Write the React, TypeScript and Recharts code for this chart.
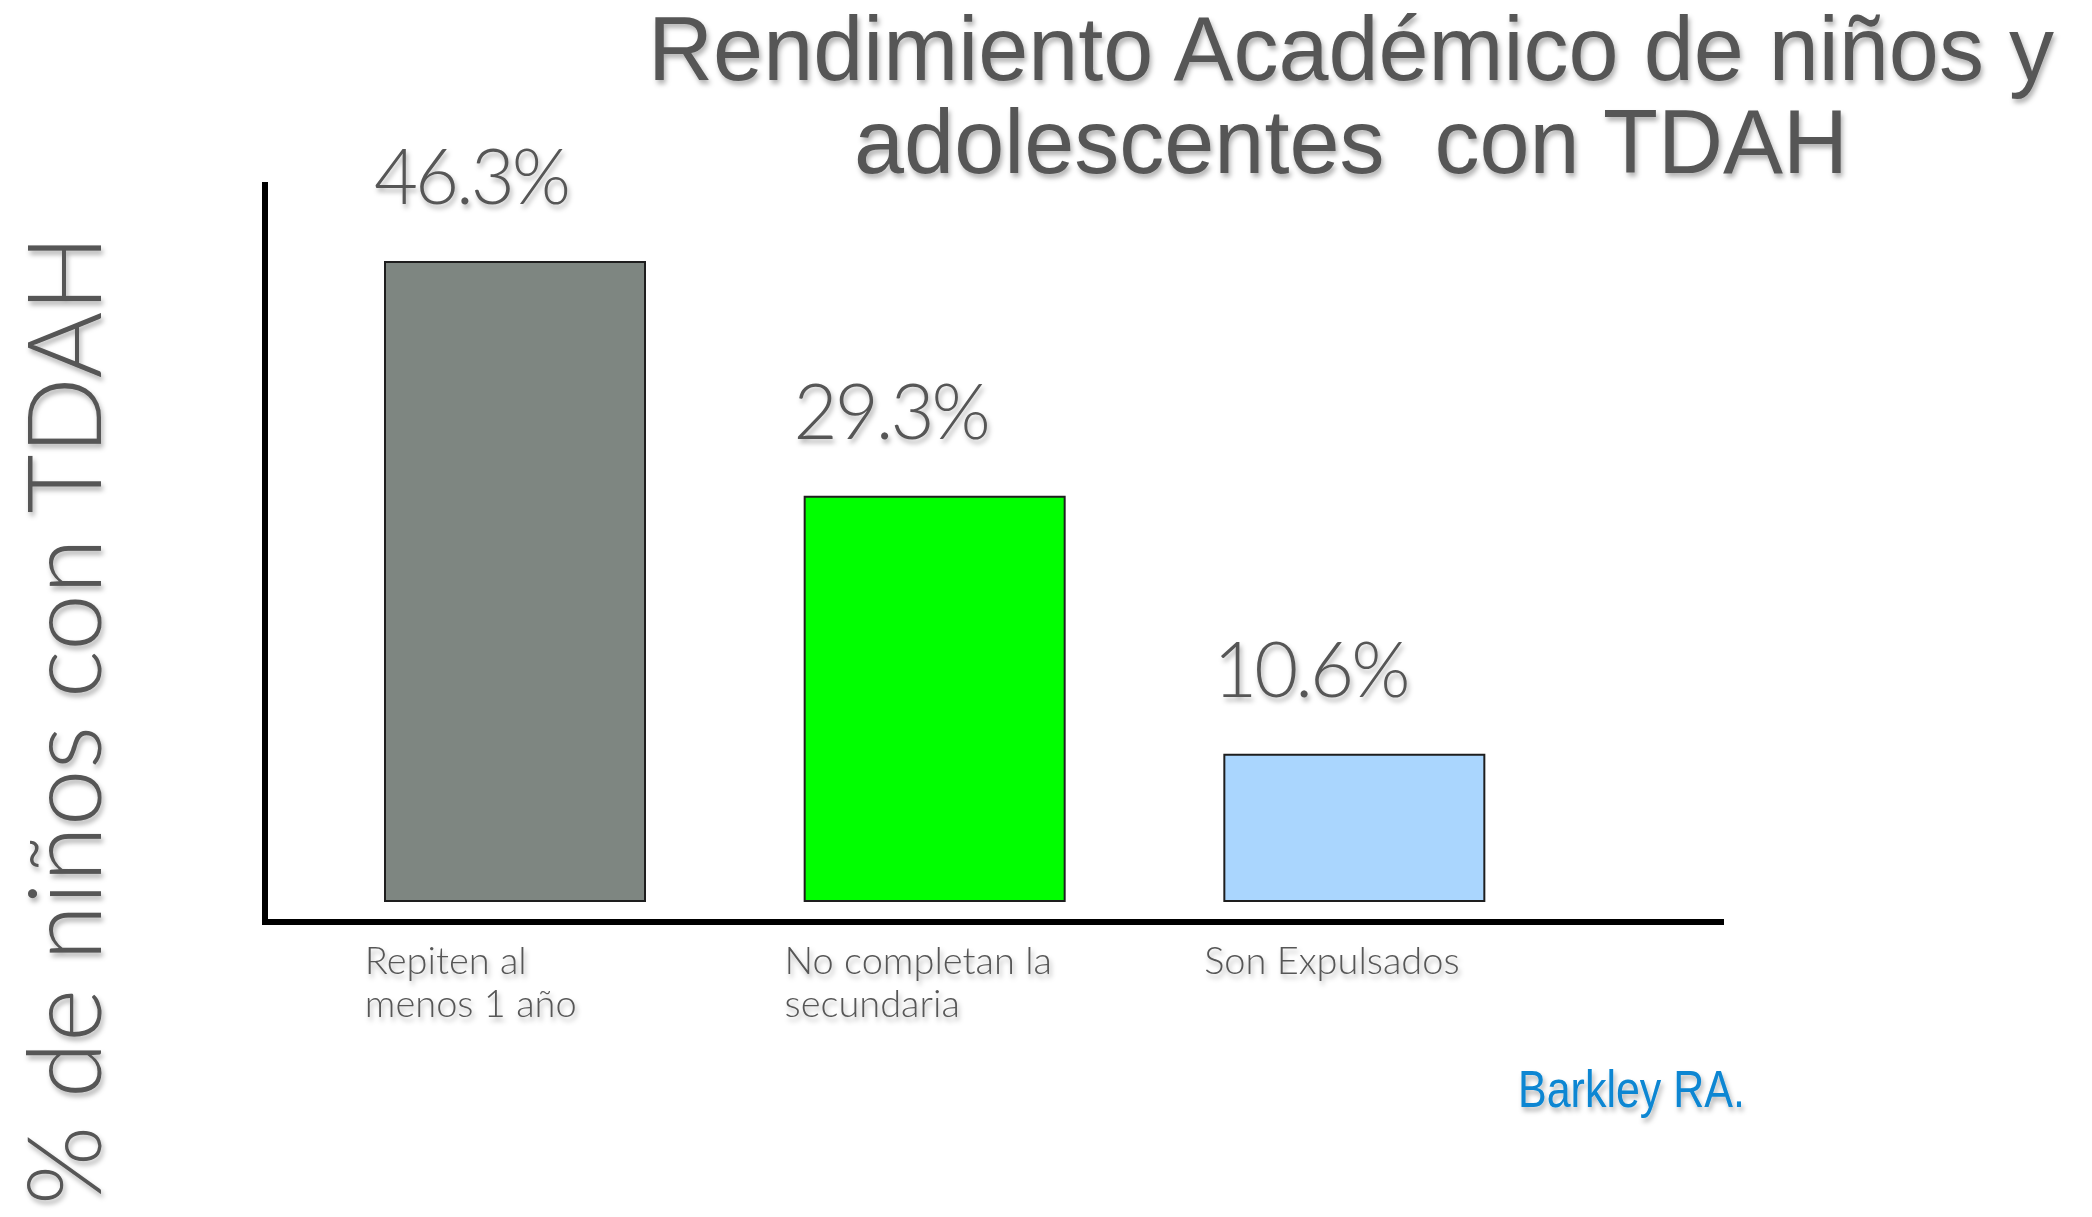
import React from 'react';
import { BarChart, Bar, XAxis, YAxis, Cell, LabelList } from 'recharts';

const categories = ['Repiten al\nmenos 1 año', 'No completan la\nsecundaria', 'Son Expulsados'];
const values = [46.3, 29.3, 10.6];
const valueLabels = ['46.3%', '29.3%', '10.6%'];
const barColors = ['#7e8681', '#00ff00', '#aad6fe'];
const titleLines = ['Rendimiento Académico de niños y', 'adolescentes  con TDAH'];
const yAxisLabel = '% de niños con TDAH';
const sourceText = 'Barkley RA.';

const data = categories.map((c, i) => ({ category: c, value: values[i], label: valueLabels[i] }));

const W = 2092;
const H = 1217;
const TEXT_GRAY = '#575757';
const LIGHT_FONT = 'Lato, "Open Sans", sans-serif';

const CategoryTick = (props: any) => {
  const { x, y, payload } = props;
  const lines = String(payload.value).split('\n');
  return (
    <g filter="url(#txtShadow)">
      {lines.map((l: string, i: number) => (
        <text
          key={i}
          x={x - 150}
          y={y + 50 + i * 43}
          textAnchor="start"
          fontFamily={LIGHT_FONT}
          fontWeight={300}
          fontSize={38}
          fill={TEXT_GRAY}
        >
          {l}
        </text>
      ))}
    </g>
  );
};

const renderValueLabel = (props: any) => {
  const { x, y, width, value } = props;
  return (
    <text
      x={Number(x) + Number(width) / 2 - 44}
      y={Number(y) - 58}
      textAnchor="middle"
      fontFamily={LIGHT_FONT}
      fontWeight={300}
      fontSize={76}
      letterSpacing={-3}
      fill={TEXT_GRAY}
      filter="url(#txtShadow)"
    >
      {value}
    </text>
  );
};

export default function App() {
  return (
    <div style={{ position: 'relative', width: W, height: H, background: '#fff' }}>
      <style>{'body{margin:0;}'}</style>
      <svg width={0} height={0} style={{ position: 'absolute' }}>
        <defs>
          <filter id="txtShadow" x="-10%" y="-30%" width="130%" height="180%">
            <feDropShadow dx="2" dy="4" stdDeviation="2.5" floodColor="#000" floodOpacity="0.3" />
          </filter>
        </defs>
      </svg>
      <BarChart
        width={W}
        height={H}
        data={data}
        margin={{ top: 185, right: 371, bottom: 195, left: 255 }}
      >
        <XAxis
          dataKey="category"
          interval={0}
          padding={{ left: 40, right: 157 }}
          height={100}
          tickLine={false}
          tickSize={0}
          axisLine={{ stroke: '#000', strokeWidth: 6, strokeLinecap: 'square' }}
          tick={<CategoryTick />}
        />
        <YAxis
          type="number"
          domain={[-1.52, 51.88]}
          allowDataOverflow
          width={10}
          tick={false}
          tickLine={false}
          axisLine={{ stroke: '#000', strokeWidth: 6, strokeLinecap: 'square' }}
        />
        <Bar dataKey="value" barSize={260} stroke="#1e1e1e" strokeWidth={2} isAnimationActive={false}>
          {data.map((d, i) => (
            <Cell key={d.category} fill={barColors[i]} />
          ))}
          <LabelList dataKey="label" content={renderValueLabel} />
        </Bar>
      </BarChart>
      <svg
        width={W}
        height={H}
        style={{ position: 'absolute', left: 0, top: 0, pointerEvents: 'none' }}
      >
        <g filter="url(#txtShadow)">
          {titleLines.map((t, i) => (
            <text
              key={i}
              x={1351}
              y={80 + i * 93}
              textAnchor="middle"
              fontFamily='"Liberation Sans", Arial, sans-serif'
              fontSize={90}
              fill={TEXT_GRAY}
              style={{ whiteSpace: 'pre' }}
            >
              {t}
            </text>
          ))}
          <text
            transform="translate(101,720) rotate(-90)"
            x={0}
            y={0}
            textAnchor="middle"
            fontFamily={LIGHT_FONT}
            fontWeight={300}
            fontSize={102}
            fill={TEXT_GRAY}
          >
            {yAxisLabel}
          </text>
          <text
            x={1518}
            y={1107}
            textAnchor="start"
            fontFamily='"Liberation Sans Narrow", "Liberation Sans", Arial, sans-serif'
            fontSize={52}
            fill="#0a86d2"
            textLength={227}
            lengthAdjust="spacingAndGlyphs"
          >
            {sourceText}
          </text>
        </g>
      </svg>
    </div>
  );
}
